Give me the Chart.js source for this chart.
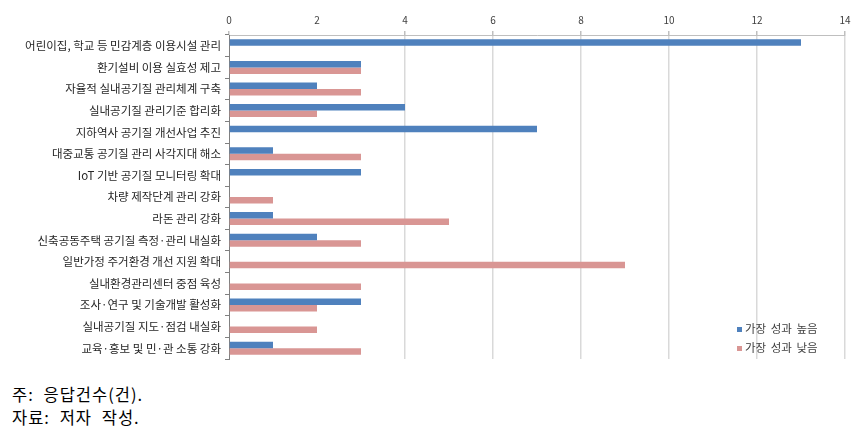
<!DOCTYPE html>
<html><head><meta charset="utf-8">
<script src="https://cdn.jsdelivr.net/npm/chart.js@4"></script>
<style>
html,body{margin:0;padding:0;background:#fff;width:856px;height:436px;overflow:hidden;}
#wrap{position:absolute;left:0;top:0;width:856px;height:370px;}
.leg{position:absolute;font-family:"Noto Sans CJK KR";font-size:11.5px;color:#404040;line-height:14px;word-spacing:2px;}
.leg span{display:inline-block;width:5px;height:5px;margin-right:3px;vertical-align:1px;}
.note{position:absolute;left:12px;font-family:"Noto Sans CJK KR";font-size:16.5px;color:#000;line-height:20px;word-spacing:5px;letter-spacing:1px;}
</style></head><body>
<div id="wrap"><canvas id="c" width="856" height="370"></canvas></div>
<div class="leg" style="left:737px;top:321px;"><span style="background:#4f81bd"></span>가장 성과 높음</div>
<div class="leg" style="left:737px;top:340px;"><span style="background:#d99694"></span>가장 성과 낮음</div>
<div class="note" style="top:384px;">주: 응답건수(건).</div>
<div class="note" style="top:407px;">자료: 저자 작성.</div>
<script>
const categories = [
 "어린이집, 학교 등 민감계층 이용시설 관리",
 "환기설비 이용 실효성 제고",
 "자율적 실내공기질 관리체계 구축",
 "실내공기질 관리기준 합리화",
 "지하역사 공기질 개선사업 추진",
 "대중교통 공기질 관리 사각지대 해소",
 "IoT 기반 공기질 모니터링 확대",
 "차량 제작단계 관리 강화",
 "라돈 관리 강화",
 "신축공동주택 공기질 측정·관리 내실화",
 "일반가정 주거환경 개선 지원 확대",
 "실내환경관리센터 중점 육성",
 "조사·연구 및 기술개발 활성화",
 "실내공기질 지도·점검 내실화",
 "교육·홍보 및 민·관 소통 강화"
];
const seriesNames = ["가장 성과 높음", "가장 성과 낮음"];
const highValues = [13, 3, 2, 4, 7, 1, 3, 0, 1, 2, 0, 0, 3, 0, 1];
const lowValues  = [0, 3, 3, 2, 0, 3, 0, 1, 5, 3, 9, 3, 2, 2, 3];
const xTicks = [0, 2, 4, 6, 8, 10, 12, 14];

new Chart(document.getElementById('c'), {
  type: 'bar',
  data: {
    labels: categories,
    datasets: [
      {label: seriesNames[0], data: highValues, backgroundColor: '#4f81bd', categoryPercentage: 0.6, barPercentage: 1.0},
      {label: seriesNames[1], data: lowValues, backgroundColor: '#d99694', categoryPercentage: 0.6, barPercentage: 1.0}
    ]
  },
  options: {
    indexAxis: 'y',
    responsive: false,
    animation: false,
    layout: {padding: {left: 0, right: 11, top: 0, bottom: 11}},
    plugins: {legend: {display: false}, tooltip: {enabled: false}},
    scales: {
      x: {
        position: 'top', min: 0, max: 14,
        afterBuildTicks: s => { s.ticks = xTicks.map(v => ({value: v})); },
        afterFit: s => { s.height = 35; },
        ticks: {font: {family: 'Noto Sans CJK KR', size: 10}, color: '#404040', padding: 5},
        grid: {
          color: ctx => (ctx.tick && (ctx.tick.value === 2 || ctx.tick.value === 0)) ? 'rgba(0,0,0,0)' : '#d9d9d9',
          lineWidth: 1.5,
          tickLength: 4,
          tickColor: ctx => (ctx.tick && ctx.tick.value === 2) ? 'rgba(0,0,0,0)' : '#bfbfbf'
        },
        border: {color: '#bfbfbf', width: 1}
      },
      y: {
        afterFit: s => { s.width = 229; },
        ticks: {font: {family: 'Noto Sans CJK KR', size: 11.5}, color: '#262626', padding: 4, autoSkip: false},
        grid: {drawOnChartArea: false, drawTicks: true, tickLength: 4, color: '#808080', offset: true},
        border: {color: '#808080', width: 1}
      }
    }
  }
});
</script>
</body></html>
